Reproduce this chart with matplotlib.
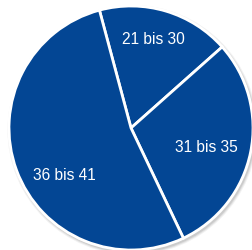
import matplotlib
matplotlib.use("Agg")
import matplotlib.pyplot as plt
from matplotlib.patches import Circle

# age groups and their shares (percent), clockwise from the top
groups = ["21 bis 30", "31 bis 35", "36 bis 41"]
shares = [17.6, 29.5, 52.9]

blue = "#034694"

fig = plt.figure(figsize=(2.52, 2.51), dpi=100)
ax = fig.add_axes([0, 0, 1, 1])

cx, cy, r = 131, 122, 122

# soft shadow behind the pie
for k, a in enumerate([0.05, 0.07, 0.09]):
    ax.add_patch(Circle((cx + 1.5, cy - 2), r + 3 - k, color="black", alpha=a, lw=0, zorder=0))

wedges, _ = ax.pie(
    shares,
    colors=[blue] * len(shares),
    startangle=105,
    counterclock=False,
    center=(cx, cy),
    radius=r,
    frame=True,
    wedgeprops=dict(edgecolor="white", linewidth=2),
)
ax.set_xlim(0, 252)
ax.set_ylim(0, 251)
ax.set_aspect("equal")
ax.axis("off")

label_pos = [(153, 211), (206, 104), (64, 75)]
for name, (x, y) in zip(groups, label_pos):
    ax.text(x, y, name, color="white", fontsize=11.2, family="Liberation Sans",
            ha="center", va="center")

fig.savefig("out.png", dpi=100)
